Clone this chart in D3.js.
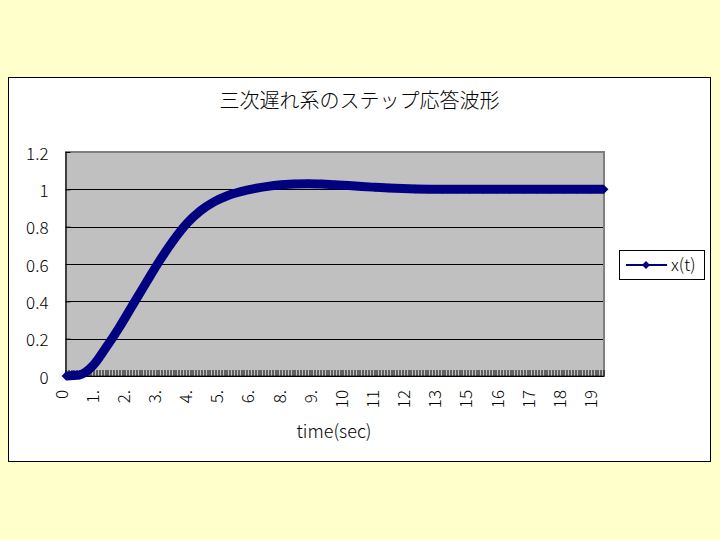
<!DOCTYPE html>
<html><head><meta charset="utf-8">
<script src="https://cdn.jsdelivr.net/npm/d3@7"></script>
<style>html,body{margin:0;padding:0;background:#FFFFCC;}</style>
</head><body>
<svg id="c" width="720" height="540"></svg>
<script>
// ---- data ----
const titleText = "三次遅れ系のステップ応答波形";
const xAxisTitle = "time(sec)";
const seriesName = "x(t)";
const timeSec = [0,0.5,1,1.5,2,2.5,3,3.5,4,4.5,5,5.5,6,6.5,7,7.5,8,8.5,9,9.5,10,10.5,11,11.5,12,12.5,13,13.5,14,14.5,15,15.5,16,16.5,17,17.5,18,18.5,19,19.5,20];
const xValues = [0,0.005,0.055,0.155,0.265,0.385,0.505,0.622,0.728,0.818,0.885,0.933,0.966,0.988,1.004,1.016,1.024,1.029,1.03,1.028,1.024,1.02,1.015,1.011,1.007,1.004,1.002,1.001,1.0,1.0,1.0,1.0,1.0,1.0,1.0,1.0,1.0,1.0,1.0,1.0,1.0];
const xTickLabels = ["0","1.","2.","3.","4.","5.","6.","8.","9.","10","11","12","13","15","16","17","18","19"];
const yTicks = [0,0.2,0.4,0.6,0.8,1.0,1.2];
const yTickLabels = ["0","0.2","0.4","0.6","0.8","1","1.2"];
const nCategoryIntervals = 190;   // category ticks on time axis
const labelEvery = 11;            // a label every 11 categories
const tMax = 20;

// ---- layout ----
const svg = d3.select("#c");
const L = 66, R = 604, T = 152, B = 376;
const font = "'Noto Sans CJK JP', 'Noto Sans', sans-serif";
const fw = 300;

svg.append("rect").attr("width",720).attr("height",540).attr("fill","#FFFFCC");
svg.append("rect").attr("x",8.5).attr("y",77.5).attr("width",702).attr("height",384)
  .attr("fill","#fff").attr("stroke","#000").attr("stroke-width",1);

const x = d3.scaleLinear().domain([0,tMax]).range([L,R]);
const y = d3.scaleLinear().domain([0,1.2]).range([B,T]);
const xr = x.copy().interpolate(d3.interpolateRound);

// plot area
svg.append("rect").attr("x",L).attr("y",T).attr("width",R-L).attr("height",B-T)
  .attr("fill","#C0C0C0").attr("stroke","#808080").attr("stroke-width",2);

// gridlines
svg.append("g").selectAll("line").data(yTicks.filter(v=>v>0 && v<1.2)).join("line")
  .attr("x1",L).attr("x2",R-1).attr("y1",d=>Math.round(y(d))+0.5).attr("y2",d=>Math.round(y(d))+0.5)
  .attr("stroke","#000").attr("stroke-width",1);

// y axis
const yAxis = d3.axisLeft(y).tickValues(yTicks).tickFormat((d,i)=>yTickLabels[i])
  .tickSizeInner(-5).tickSizeOuter(0).tickPadding(17);
const gy = svg.append("g").attr("transform",`translate(${L-0.5},0)`).call(yAxis);
gy.select(".domain").attr("stroke","#000");
gy.selectAll("text").attr("font-family",font).attr("font-weight",fw).attr("font-size",17).attr("fill","#000").attr("dy","0.42em");

// x axis category ticks
const catTicks = d3.range(nCategoryIntervals+1).map(i=>i*tMax/nCategoryIntervals);
const xAxis = d3.axisBottom(xr).tickValues(catTicks).tickSizeInner(-6).tickSizeOuter(0).tickFormat("");
const gx = svg.append("g").attr("transform",`translate(-0.5,${B})`).call(xAxis);
gx.select(".domain").attr("stroke","#000");
gx.selectAll(".tick line").attr("stroke","#000");

// x labels (rotated)
const labelT = xTickLabels.map((s,j)=>j*labelEvery*tMax/nCategoryIntervals);
svg.append("g").selectAll("text").data(xTickLabels).join("text")
  .attr("transform",(d,j)=>`translate(${x(labelT[j])+1.5},390) rotate(-90)`)
  .attr("text-anchor","end").attr("font-family",font).attr("font-weight",fw).attr("font-size",17).attr("fill","#000")
  .text(d=>d);

// series
const pts = timeSec.map((t,i)=>[t,xValues[i]]);
const line = d3.line().x(d=>x(d[0])).y(d=>y(d[1])).curve(d3.curveMonotoneX);
svg.append("path").datum(pts).attr("d",line).attr("fill","none")
  .attr("stroke","#000080").attr("stroke-width",9).attr("stroke-linejoin","round");
const diamond = d3.symbol().type(d3.symbolDiamond2).size(50);
svg.append("g").selectAll("path").data(pts).join("path")
  .attr("transform",d=>`translate(${x(d[0])},${y(d[1])})`)
  .attr("d",diamond).attr("fill","#000080");

// titles
svg.append("text").attr("x",359.5).attr("y",108).attr("text-anchor","middle")
  .attr("font-family",font).attr("font-weight",fw).attr("font-size",20).attr("fill","#000").text(titleText);
svg.append("text").attr("x",334).attr("y",438).attr("text-anchor","middle")
  .attr("font-family",font).attr("font-weight",fw).attr("font-size",18).attr("fill","#000").text(xAxisTitle);

// legend
const lg = svg.append("g");
lg.append("rect").attr("x",619.5).attr("y",250.5).attr("width",85).attr("height",29)
  .attr("fill","#fff").attr("stroke","#000").attr("stroke-width",1);
lg.append("line").attr("x1",626).attr("x2",667).attr("y1",265).attr("y2",265)
  .attr("stroke","#000080").attr("stroke-width",2);
lg.append("path").attr("transform","translate(646,265)").attr("d",d3.symbol().type(d3.symbolDiamond2).size(40)).attr("fill","#000080");
lg.append("text").attr("x",671).attr("y",271).attr("font-family",font).attr("font-weight",fw).attr("font-size",17).attr("fill","#000").text(seriesName);
</script>
</body></html>
